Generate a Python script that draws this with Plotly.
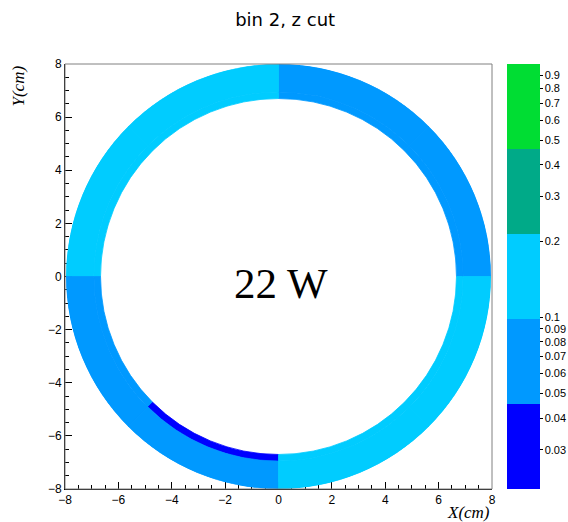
import numpy as np
import plotly.graph_objects as go

# ---- data ----
angle_edges = [0, 45, 90, 135, 180, 225, 270, 315, 360]   # degrees
radial_edges = [6.7, 6.95, 8.0]                           # cm
bin_values = [
    [0.07, 0.07, 0.15, 0.15, 0.07, 0.03, 0.15, 0.15],     # 6.70 - 6.95 cm
    [0.07, 0.07, 0.15, 0.15, 0.07, 0.07, 0.15, 0.15],     # 6.95 - 8.00 cm
]
z_min, z_max = 0.021, 1.0
band_colors = ["#0000FF", "#0099FF", "#00CCFF", "#00AA88", "#00DD33"]
axis_ticks = [-8, -6, -4, -2, 0, 2, 4, 6, 8]
cbar_ticks = [0.03, 0.04, 0.05, 0.06, 0.07, 0.08, 0.09, 0.1,
              0.2, 0.3, 0.4, 0.5, 0.6, 0.7, 0.8, 0.9]
cbar_labels = ["0.03", "0.04", "0.05", "0.06", "0.07", "0.08", "0.09", "0.1",
               "0.2", "0.3", "0.4", "0.5", "0.6", "0.7", "0.8", "0.9"]
title_text = "bin 2, z cut"
label_text = "22 W"

# ---- build bins ----
theta, width, base, rlen, col = [], [], [], [], []
for i in range(len(radial_edges) - 1):
    for j in range(len(angle_edges) - 1):
        theta.append(0.5 * (angle_edges[j] + angle_edges[j + 1]))
        width.append(angle_edges[j + 1] - angle_edges[j])
        base.append(radial_edges[i])
        rlen.append(radial_edges[i + 1] - radial_edges[i])
        col.append(np.log10(bin_values[i][j]))

n = len(band_colors)
cscale = []
for k, c in enumerate(band_colors):
    cscale.append([k / n, c])
    cscale.append([(k + 1) / n, c])
cmin, cmax = np.log10(z_min), np.log10(z_max)

fig = go.Figure()
fig.add_trace(go.Scatter(x=[None], y=[None], showlegend=False, hoverinfo="skip"))
fig.add_trace(go.Barpolar(
    theta=theta, width=width, base=base, r=rlen,
    marker=dict(
        color=col, colorscale=cscale, cmin=cmin, cmax=cmax,
        line=dict(width=0.8, color=col, colorscale=cscale, cmin=cmin, cmax=cmax),
        colorbar=dict(
            x=1.035, xanchor="left", xpad=0, y=0.5, yanchor="middle", ypad=0,
            len=1, lenmode="fraction", thickness=33, thicknessmode="pixels",
            tickvals=[np.log10(t) for t in cbar_ticks], ticktext=cbar_labels,
            ticks="outside", ticklen=3, tickcolor="black",
            tickfont=dict(family="Liberation Sans", size=11, color="black"),
            outlinewidth=0,
        ),
        showscale=True,
    ),
    subplot="polar", showlegend=False,
))

axis_common = dict(
    range=[-8, 8], tickvals=axis_ticks, ticks="inside", ticklen=7,
    tickcolor="black", showline=True, linecolor="black", linewidth=1,
    showgrid=False, zeroline=False, mirror=False,
    tickfont=dict(family="Liberation Sans", size=12, color="black"),
    minor=dict(dtick=0.5, ticks="inside", ticklen=4, tickcolor="black", showgrid=False),
)

fig.update_layout(
    width=568, height=522,
    margin=dict(l=65, r=76, t=64, b=33, autoexpand=False),
    paper_bgcolor="white", plot_bgcolor="white",
    xaxis=dict(**axis_common),
    yaxis=dict(**axis_common),
    polar=dict(
        domain=dict(x=[0, 1], y=[0, 1]),
        bgcolor="rgba(0,0,0,0)",
        radialaxis=dict(range=[0, 8], visible=False),
        angularaxis=dict(visible=False, rotation=0, direction="counterclockwise"),
        hole=0,
    ),
    title=dict(text=title_text, x=0.502, xanchor="center", y=1 - 20 / 522,
               yanchor="middle", font=dict(family="DejaVu Sans", size=18, color="black")),
    shapes=[dict(type="rect", xref="paper", yref="paper", x0=0, x1=1, y0=0, y1=1,
                 line=dict(color="#808080", width=1), layer="above")],
    annotations=[
        dict(text=label_text, x=0.1, y=-0.25, xref="x", yref="y", showarrow=False,
             font=dict(family="Liberation Serif", size=43, color="black"),
             xanchor="center", yanchor="middle"),
        dict(text="<i>X(cm)</i>", x=1, xref="paper", xanchor="right",
             y=0, yref="paper", yanchor="top", yshift=-12, showarrow=False,
             font=dict(family="Liberation Serif", size=17, color="black")),
        dict(text="<i>Y(cm)</i>", textangle=-90, x=-0.11, xref="paper", xanchor="center",
             y=1, yref="paper", yanchor="top", showarrow=False,
             font=dict(family="Liberation Serif", size=17, color="black")),
    ],
)

fig.write_html("out.html")
